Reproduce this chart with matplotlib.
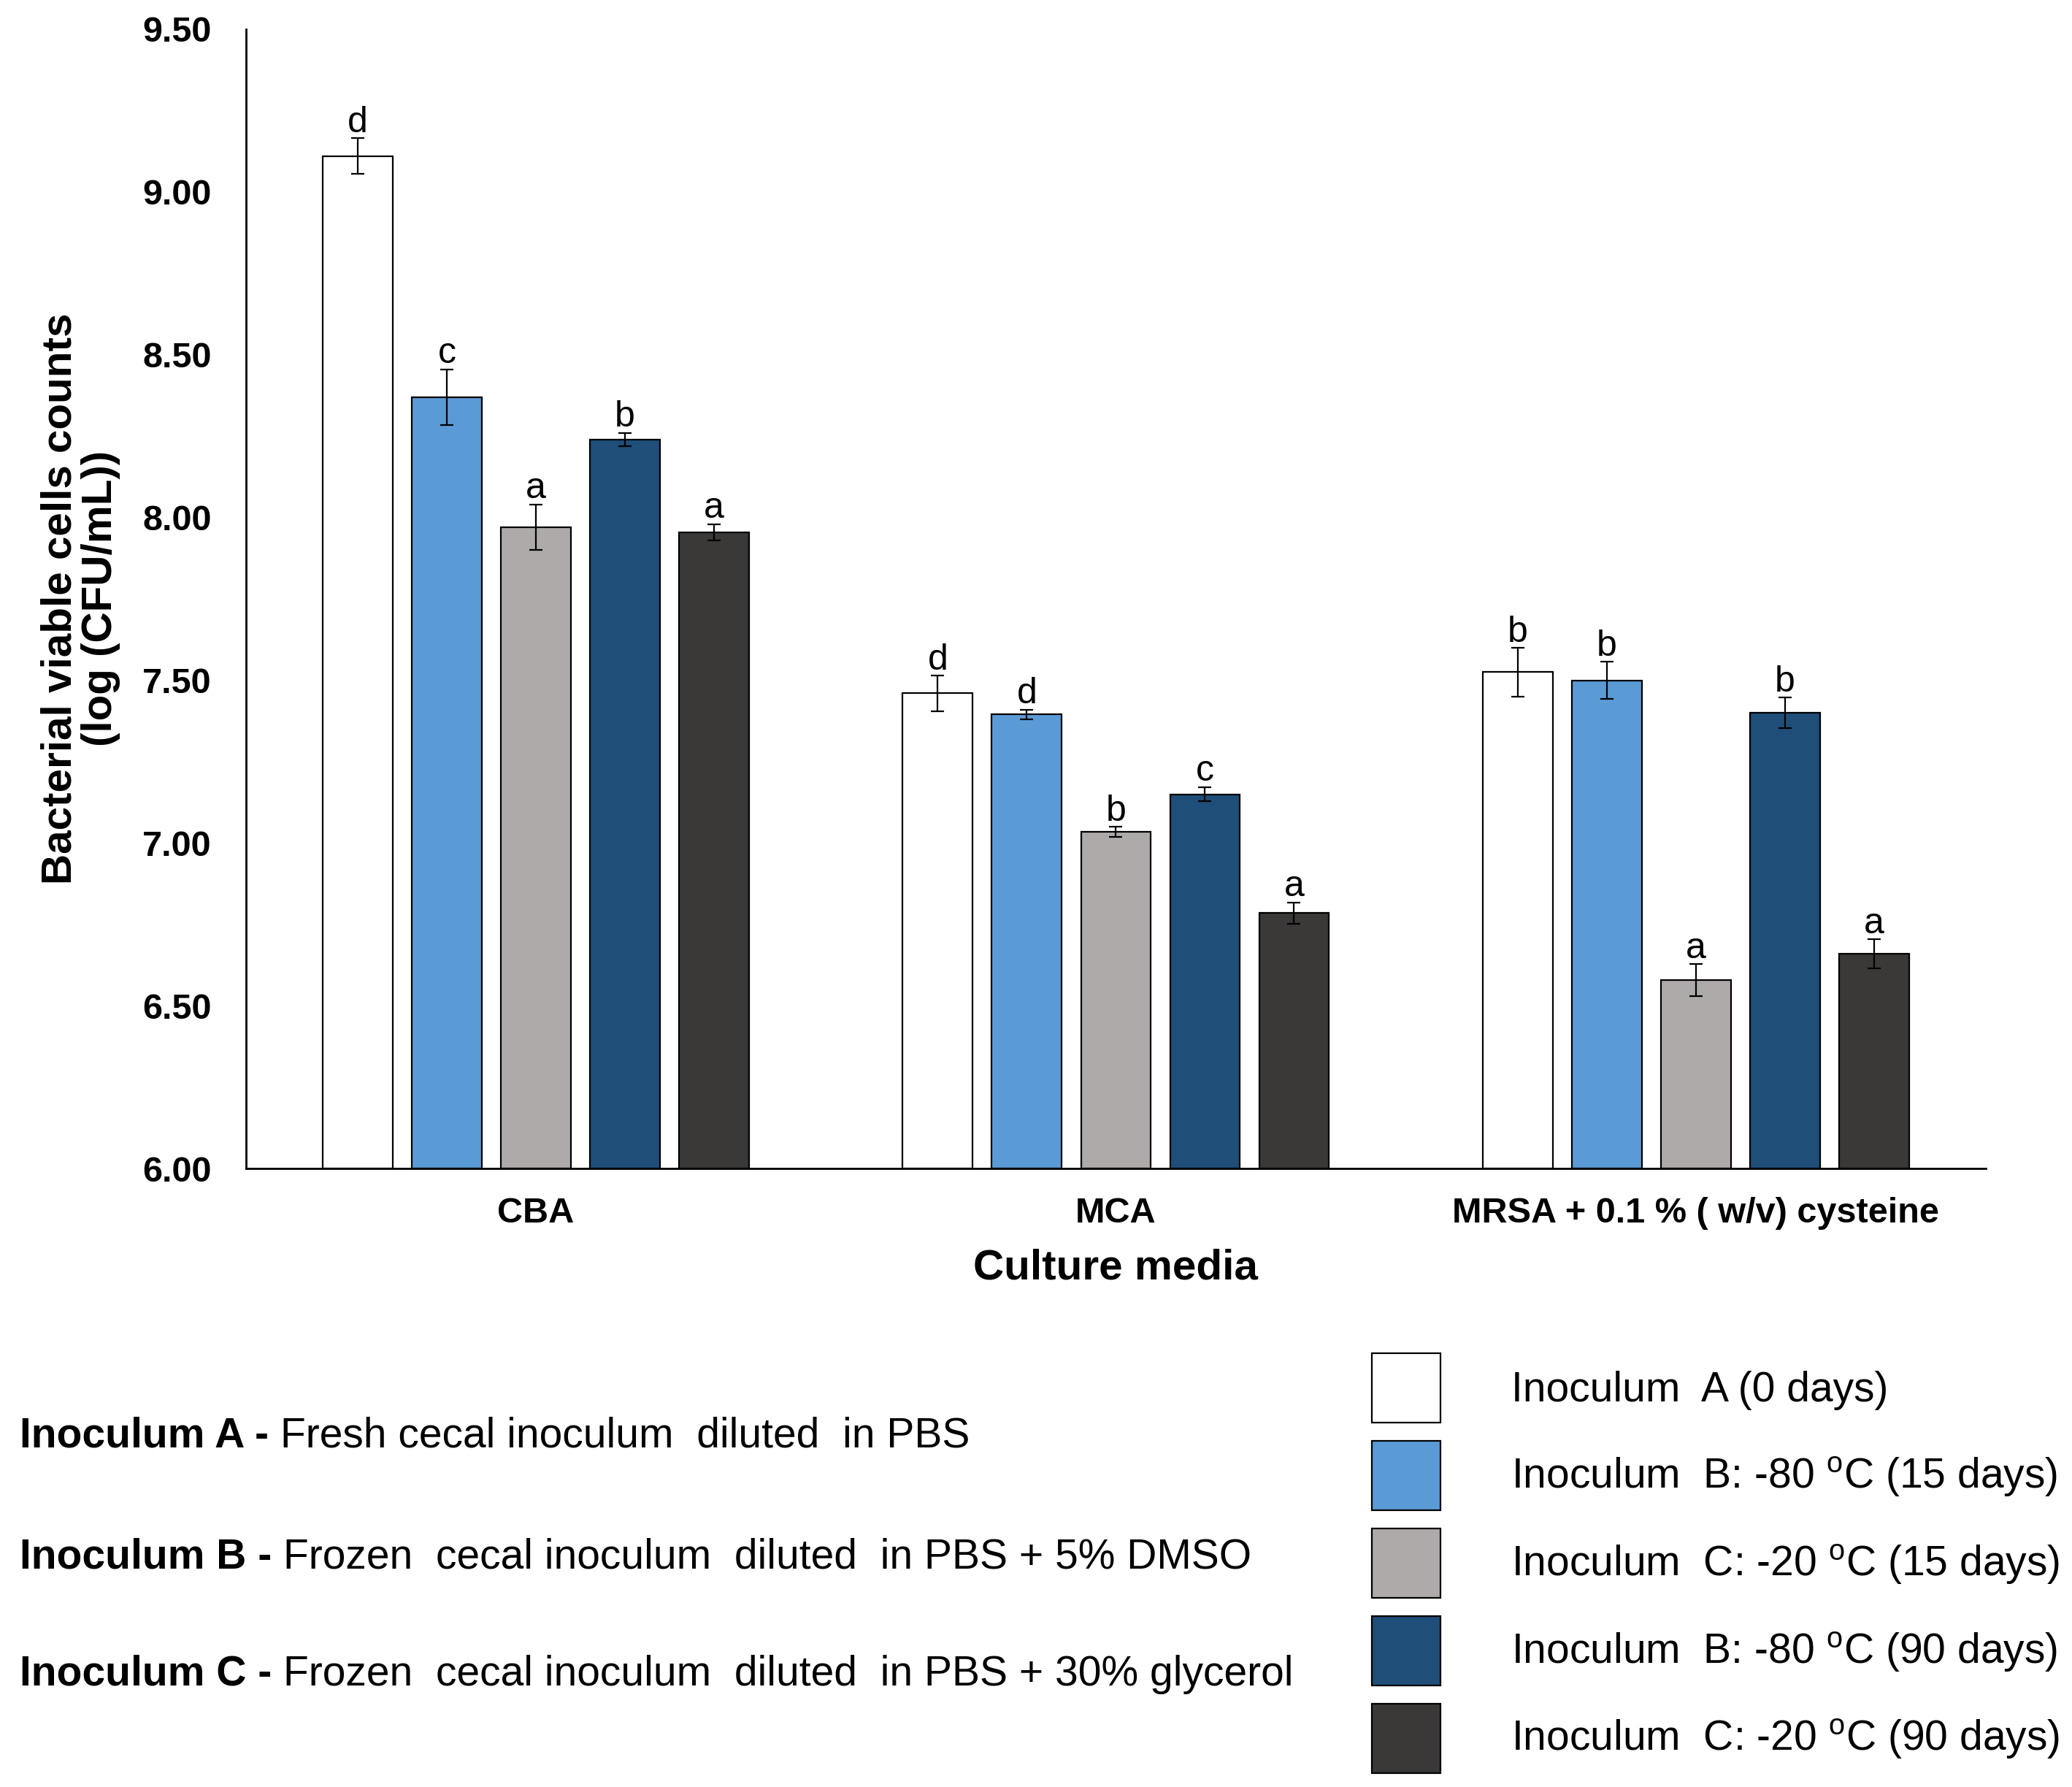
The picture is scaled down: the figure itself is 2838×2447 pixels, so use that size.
import numpy as np
import matplotlib
matplotlib.use("Agg")
import matplotlib.pyplot as plt

plt.rcParams["font.family"] = ["Liberation Sans", "DejaVu Sans"]
plt.rcParams["mathtext.fontset"] = "custom"
plt.rcParams["mathtext.rm"] = "Liberation Sans"

# data
media = ["CBA", "MCA", "MRSA + 0.1 % ( w/v) cysteine"]
series = ["Inoculum  A (0 days)",
          "Inoculum  B: -80 $^{\\rm o}$C (15 days)",
          "Inoculum  C: -20 $^{\\rm o}$C (15 days)",
          "Inoculum  B: -80 $^{\\rm o}$C (90 days)",
          "Inoculum  C: -20 $^{\\rm o}$C (90 days)"]
colors = ["#FFFFFF", "#5B9BD5", "#AEAAAA", "#1F4E79", "#3B3838"]

means = np.array([
    [9.11, 8.37, 7.97, 8.24, 7.955],   # CBA
    [7.46, 7.395, 7.035, 7.15, 6.785],  # MCA
    [7.525, 7.50, 6.58, 7.40, 6.66],    # MRSA
])
errs = np.array([
    [0.055, 0.085, 0.07, 0.02, 0.025],
    [0.055, 0.015, 0.015, 0.022, 0.033],
    [0.075, 0.057, 0.049, 0.047, 0.045],
])
letters = [
    ["d", "c", "a", "b", "a"],
    ["d", "d", "b", "c", "a"],
    ["b", "b", "a", "b", "a"],
]

notes_bold = ["Inoculum A - ", "Inoculum B - ", "Inoculum C - "]
notes_text = ["Fresh cecal inoculum  diluted  in PBS",
              "Frozen  cecal inoculum  diluted  in PBS + 5% DMSO",
              "Frozen  cecal inoculum  diluted  in PBS + 30% glycerol"]

fig = plt.figure(figsize=(28.38, 24.47), dpi=100)
ax = fig.add_axes([0.1187, 0.346, 0.8397, 0.6377])

x = np.arange(len(media))
pitch = 0.1536
width = 0.1206
for i, (lab, col) in enumerate(zip(series, colors)):
    xs = x + (i - 2) * pitch
    ax.bar(xs, means[:, i] - 6.0, bottom=6.0, width=width, color=col,
           edgecolor="black", linewidth=1.6, label=lab, zorder=2)
    ax.errorbar(xs, means[:, i], yerr=errs[:, i], fmt="none", ecolor="black",
                elinewidth=1.6, capsize=6.5, capthick=1.6, zorder=3)
    for j in range(len(media)):
        ax.annotate(letters[j][i], (xs[j], means[j, i] + errs[j, i]),
                    xytext=(0, 6), textcoords="offset points",
                    ha="center", va="baseline", fontsize=36)

ax.set_xlim(-0.5, 2.5)
ax.set_ylim(6.0, 9.5)
ax.set_yticks(np.arange(6.0, 9.51, 0.5))
ax.set_yticklabels([f"{v:.2f}" for v in np.arange(6.0, 9.51, 0.5)],
                   fontsize=35, fontweight="bold")
ax.set_xticks(x)
ax.set_xticklabels(media, fontsize=35, fontweight="bold")
ax.tick_params(axis="y", length=0, pad=34)
ax.tick_params(axis="x", length=0, pad=28)
for s in ["top", "right"]:
    ax.spines[s].set_visible(False)
for s in ["left", "bottom"]:
    ax.spines[s].set_linewidth(2.0)
ax.set_xlabel("Culture media", fontsize=42, fontweight="bold", labelpad=18)

fig.text(0.0389, 0.665, "Bacterial viable cells counts\n(log (CFU/mL))",
         rotation=90, ha="center", va="center", fontsize=42,
         fontweight="bold", linespacing=1.05)

# legend (right)
handles, labels = ax.get_legend_handles_labels()
fig.legend(handles, labels, loc="upper left", bbox_to_anchor=(0.662, 0.2427),
           frameon=False, fontsize=41, handlelength=1.65, handleheight=2.2,
           handletextpad=1.7, labelspacing=0.43, borderpad=0, borderaxespad=0)

# explanatory notes (left)
fig.canvas.draw()
r = fig.canvas.get_renderer()
for k, yy in enumerate([1967, 2132, 2293]):
    yf = 1 - yy / 2447
    t = fig.text(27 / 2838, yf, notes_bold[k], fontsize=41, fontweight="bold",
                 ha="left", va="center")
    bb = t.get_window_extent(r).transformed(fig.transFigure.inverted())
    fig.text(bb.x1, yf, notes_text[k], fontsize=41, ha="left", va="center")

fig.savefig("out.png", dpi=100)
